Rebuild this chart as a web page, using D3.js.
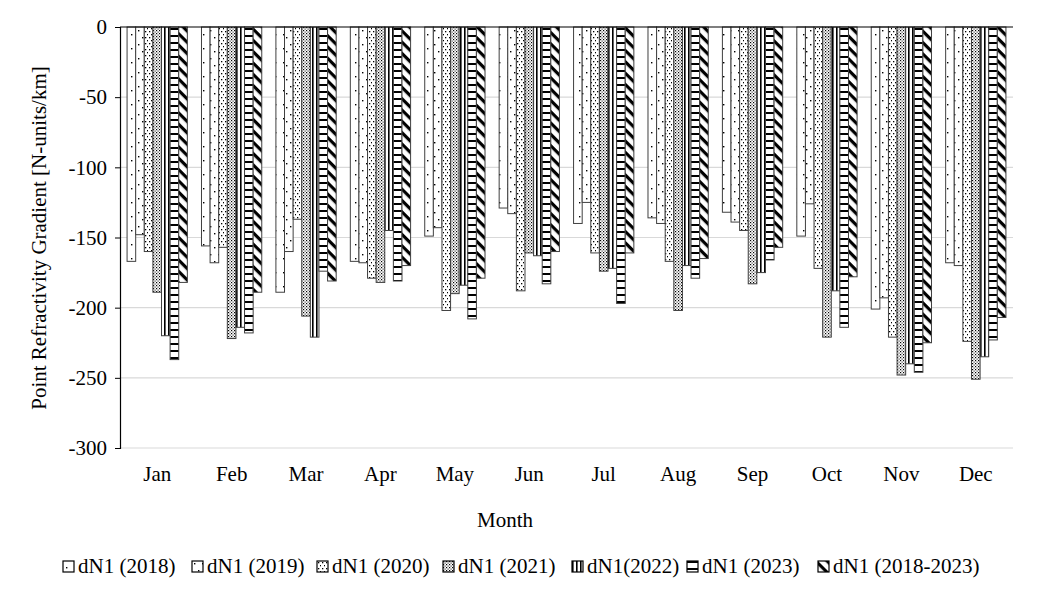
<!DOCTYPE html>
<html lang="en">
<script src='https://d3js.org/d3.v7.min.js'></script>
<style> body {margin:0; background:#fff;} text {font-family:"Liberation Serif", "Times New Roman", serif; fill:#000;} </style>
<body>
<svg width=1040 height=600></svg>
<script>
    // months on the category axis
    var months = ["Jan","Feb","Mar","Apr","May","Jun","Jul","Aug","Sep","Oct","Nov","Dec"];
    // legend names, one per series
    var seriesNames = ["dN1 (2018)","dN1 (2019)","dN1 (2020)","dN1 (2021)","dN1(2022)","dN1 (2023)","dN1 (2018-2023)"];
    // values, one array per series
    var dN2018 = [-167,-156,-189,-167,-149,-129,-140,-136,-132,-149,-201,-168];
    var dN2019 = [-148,-168,-160,-168,-143,-133,-125,-140,-139,-126,-193,-170];
    var dN2020 = [-160,-157,-137,-179,-202,-188,-161,-167,-145,-172,-221,-224];
    var dN2021 = [-189,-222,-206,-182,-190,-161,-174,-202,-183,-221,-248,-251];
    var dN2022 = [-220,-214,-221,-145,-184,-163,-172,-170,-175,-188,-240,-235];
    var dN2023 = [-237,-218,-174,-181,-208,-183,-197,-179,-166,-214,-246,-223];
    var dNall  = [-182,-189,-181,-170,-179,-160,-161,-165,-157,-178,-225,-207];
    var allSeries = [dN2018, dN2019, dN2020, dN2021, dN2022, dN2023, dNall];
    var yTicks = [0,-50,-100,-150,-200,-250,-300];

    var pLeft = 120, pRight = 1013, pTop = 27, pBottom = 448;
    var svg = d3.select("svg");

    // fill patterns, roughly the Excel ones
    var defs = svg.append("defs");
    function pat(id, w, h, draw) {
        var p = defs.append("pattern").attr("id", id)
            .attr("patternUnits", "userSpaceOnUse").attr("width", w).attr("height", h);
        p.append("rect").attr("width", w).attr("height", h).attr("fill", "#fff");
        draw(p);
    }
    pat("p0", 8, 14, function(p) {
        p.append("rect").attr("x", 3).attr("y", 6).attr("width", 1.4).attr("height", 1.4).attr("fill", "#000");
    });
    pat("p1", 8, 14, function(p) {
        p.append("rect").attr("x", 2).attr("y", 2).attr("width", 1.4).attr("height", 1.4).attr("fill", "#000");
        p.append("rect").attr("x", 6).attr("y", 9).attr("width", 1.4).attr("height", 1.4).attr("fill", "#000");
    });
    pat("p2", 4, 6, function(p) {
        p.append("rect").attr("x", 1).attr("y", 1).attr("width", 1.3).attr("height", 1.3).attr("fill", "#000");
        p.append("rect").attr("x", 3).attr("y", 4).attr("width", 1.3).attr("height", 1.3).attr("fill", "#000");
    });
    pat("p3", 3, 3, function(p) {
        p.append("rect").attr("x", 0).attr("y", 0).attr("width", 1.2).attr("height", 1.2).attr("fill", "#000");
        p.append("rect").attr("x", 1.5).attr("y", 1.5).attr("width", 1.2).attr("height", 1.2).attr("fill", "#444");
    });
    pat("p4", 4, 4, function(p) {
        p.append("rect").attr("x", 0).attr("y", 0).attr("width", 1.6).attr("height", 4).attr("fill", "#000");
    });
    pat("p5", 8, 7, function(p) {
        p.append("rect").attr("x", 0).attr("y", 0).attr("width", 8).attr("height", 2).attr("fill", "#000");
    });
    pat("p6", 8, 8, function(p) {
        p.attr("patternTransform", "rotate(45)");
        p.append("rect").attr("x", 0).attr("y", 0).attr("width", 8).attr("height", 3.2).attr("fill", "#000");
    });

    var x0 = d3.scaleBand().domain(months).range([pLeft, pRight]).paddingInner(0.19).paddingOuter(0.095);
    var x1 = d3.scaleBand().domain(d3.range(seriesNames.length)).range([0, x0.bandwidth()]);
    var y = d3.scaleLinear().domain([-300, 0]).range([pBottom, pTop]);

    // grid lines
    svg.append("g").selectAll("line").data(yTicks.filter(function(d){ return d < 0; }))
        .enter().append("line")
        .attr("x1", pLeft).attr("x2", pRight)
        .attr("y1", function(d){ return y(d); }).attr("y2", function(d){ return y(d); })
        .attr("stroke", "#d9d9d9").attr("stroke-width", 1.2);

    // bars
    allSeries.forEach(function(vals, s) {
        svg.append("g").selectAll("rect").data(vals).enter().append("rect")
            .attr("x", function(d, i){ return x0(months[i]) + x1(s); })
            .attr("y", y(0))
            .attr("width", x1.bandwidth())
            .attr("height", function(d){ return y(d) - y(0); })
            .attr("fill", "url(#p" + s + ")")
            .attr("stroke", "#404040").attr("stroke-width", 1);
    });

    // y axis, plain hyphen for the minus sign
    var yAxis = svg.append("g").attr("transform", "translate(" + pLeft + ",0)")
        .call(d3.axisLeft(y).tickValues(yTicks).tickSize(5).tickPadding(8)
            .tickFormat(function(d){ return String(d); }));
    yAxis.select(".domain").attr("stroke", "#000").attr("stroke-width", 1.2);
    yAxis.selectAll(".tick line").attr("stroke", "#000");
    yAxis.selectAll("text").style("font-family", "Liberation Serif").style("font-size", "21px");

    // zero line
    svg.append("line").attr("x1", pLeft).attr("x2", pRight).attr("y1", y(0)).attr("y2", y(0))
        .attr("stroke", "#000").attr("stroke-width", 1.2);

    // month labels sit below the plot
    svg.append("g").selectAll("text").data(months).enter().append("text")
        .attr("x", function(d){ return x0(d) + x0.bandwidth() / 2; })
        .attr("y", 481)
        .attr("text-anchor", "middle").style("font-size", "21px")
        .text(function(d){ return d; });

    svg.append("text").attr("x", 505).attr("y", 527).attr("text-anchor", "middle")
        .style("font-size", "21px").text("Month");
    svg.append("text").attr("transform", "translate(46,238) rotate(-90)").attr("text-anchor", "middle")
        .style("font-size", "21px").text("Point Refractivity Gradient [N-units/km]");

    // legend
    var legX = [63, 192, 317, 443, 572, 687, 818];
    var leg = svg.append("g").selectAll("g").data(seriesNames).enter().append("g")
        .attr("transform", function(d, i){ return "translate(" + legX[i] + ",561)"; });
    leg.append("rect").attr("width", 11).attr("height", 11)
        .attr("fill", function(d, i){ return "url(#p" + i + ")"; })
        .attr("stroke", "#000").attr("stroke-width", 1.2);
    leg.append("text").attr("x", 15).attr("y", 12).style("font-size", "21px")
        .text(function(d){ return d; });
</script>
</body>
</html>
